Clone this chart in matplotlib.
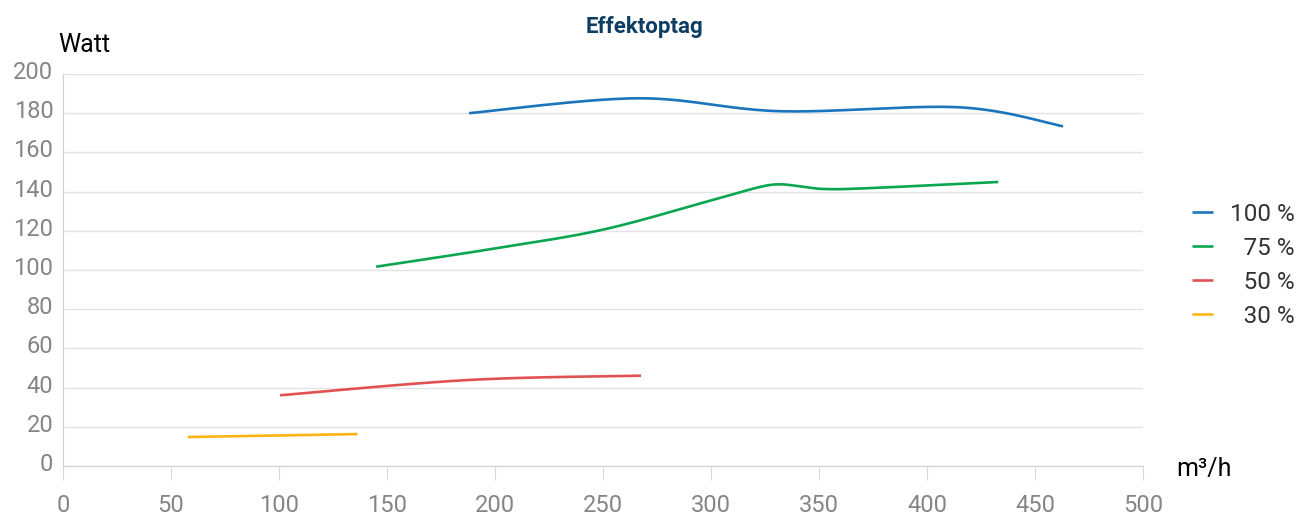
import numpy as np
import matplotlib.pyplot as plt
from matplotlib.transforms import ScaledTranslation

plt.rcParams['font.family'] = ['Roboto', 'DejaVu Sans']

# maalte punkter (m3/h, Watt)
x100 = [188, 266, 332, 415, 463]
y100 = [180, 187.6, 181, 183, 173.3]
x75 = [145, 200, 250, 300, 322, 332, 343, 353, 372, 433]
y75 = [101.7, 111, 120.6, 135.5, 142.2, 143.7, 142.4, 141.3, 141.7, 144.9]
x50 = [100.5, 188, 267.6]
y50 = [36.1, 43.9, 46.1]
x30 = [57.7, 100, 136.4]
y30 = [14.8, 15.6, 16.3]

serier = ["100 %", "\u200775 %", "\u200750 %", "\u200730 %"]
farver = ["#1a75bd", "#0aa650", "#e05252", "#fdb515"]
xticks = [0, 50, 100, 150, 200, 250, 300, 350, 400, 450, 500]
yticks = [0, 20, 40, 60, 80, 100, 120, 140, 160, 180, 200]


def glat(x, y, n=40):
    # excel-agtig udglatning (bezier med catmull-rom kontrolpunkter)
    p = np.column_stack([x, y]).astype(float)
    p = np.vstack([p[0], p, p[-1]])
    ud = []
    t = np.linspace(0, 1, n)[:, None]
    for i in range(1, len(p) - 2):
        b0 = p[i]
        b3 = p[i + 1]
        b1 = b0 + (p[i + 1] - p[i - 1]) / 6
        b2 = b3 - (p[i + 2] - p[i]) / 6
        seg = (1 - t) ** 3 * b0 + 3 * (1 - t) ** 2 * t * b1 + 3 * (1 - t) * t ** 2 * b2 + t ** 3 * b3
        ud.append(seg)
    ud = np.vstack(ud)
    return ud[:, 0], ud[:, 1]


fig = plt.figure(figsize=(13, 5.17), dpi=100)
ax = fig.add_axes([0.0485, 0.0986, 0.8307, 0.7583])

for xs, ys, navn, farve in zip([x100, x75, x50, x30], [y100, y75, y50, y30], serier, farver):
    gx, gy = glat(xs, ys)
    ax.plot(gx, gy, color=farve, lw=1.9, label=navn, solid_capstyle='butt')

ax.set_xlim(0, 500)
ax.set_ylim(0, 200)
ax.set_xticks(xticks)
ax.set_yticks(yticks)
ax.grid(axis='y', color='#e3e3e3', lw=1)
ax.set_axisbelow(True)
for s in ['top', 'right']:
    ax.spines[s].set_visible(False)
ax.spines['left'].set_color('#d0d0d0')
ax.spines['bottom'].set_color('#d0d0d0')
ax.tick_params(axis='x', length=10, color='#d9d9d9', pad=10, labelsize=17, labelcolor='#858585')
ax.tick_params(axis='y', length=0, pad=7, labelsize=17, labelcolor='#858585')
flyt = ScaledTranslation(0, 4 / 100, fig.dpi_scale_trans)
for lab in ax.get_yticklabels():
    lab.set_transform(lab.get_transform() + flyt)

fig.text(0.0445, 0.913, "Watt", fontsize=18, color='black', va='center', ha='left')
fig.text(0.905, 0.093, "m\u00b3/h", fontsize=18, color='black', va='center', ha='left')
fig.text(0.496, 0.947, "Effektoptag", fontsize=16, fontweight='bold', color='#0d3d62', ha='center', va='center')

leg = fig.legend(loc='center left', bbox_to_anchor=(0.917, 0.487), frameon=False,
                 fontsize=17.5, handlelength=0.85, handletextpad=0.7, labelspacing=0.45,
                 borderpad=0, borderaxespad=0)
for t in leg.get_texts():
    t.set_color('#333333')

fig.savefig("out.png", dpi=100)
